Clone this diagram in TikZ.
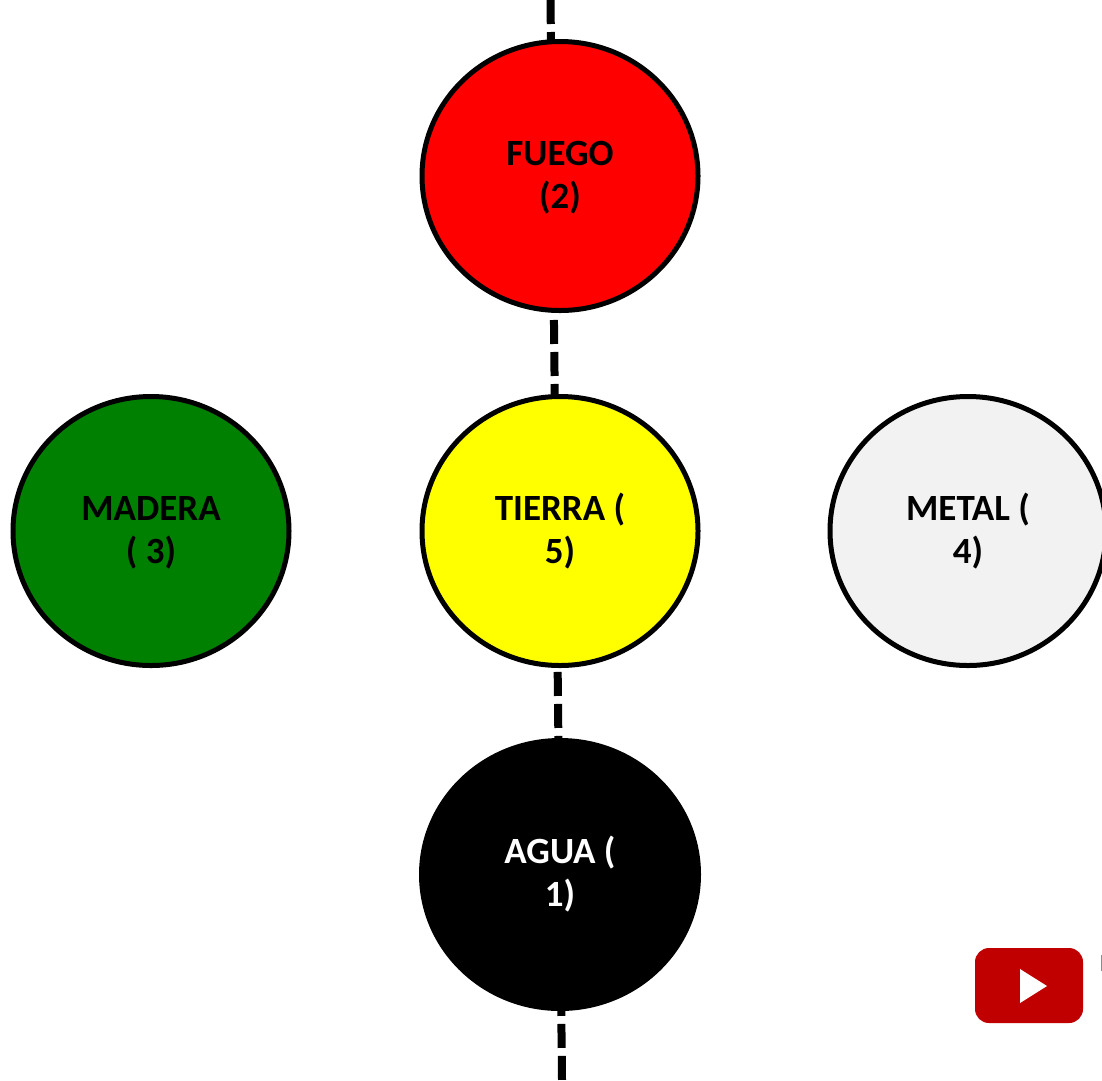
\documentclass[tikz,border=0pt]{standalone}
\usepackage{fontspec}
\setmainfont{Carlito}
\usetikzlibrary{shapes.geometric,backgrounds}
\definecolor{elemyellow}{RGB}{255,255,0}
\definecolor{elemred}{RGB}{255,0,0}
\definecolor{elemgreen}{RGB}{0,128,0}
\definecolor{elemgray}{RGB}{242,242,242}
\definecolor{ytred}{RGB}{192,0,0}
\tikzset{
  elem/.style={ellipse,draw=black,line width=5pt,inner sep=0pt,minimum width=276pt,minimum height=269pt,align=center,font=\fontsize{37}{43}\selectfont\bfseries,text=black},
  axisline/.style={draw=black,line width=8pt,dash pattern=on 24pt off 8pt},
}
\begin{document}
\begin{tikzpicture}[x=1pt,y=-1pt]
\useasboundingbox (0,0) rectangle (1102,1080);
\clip (0,0) rectangle (1102,1080);
\coordinate (top) at (550.5,0);
\coordinate (bot) at (562,1080);
\node[elem,fill=elemred] (fuego) at (560,176) {\vphantom{(}FUEGO\\(2)};
\node[elem,fill=elemyellow] (tierra) at (560,531) {TIERRA (\\5)};
\node[elem,fill=elemgreen] (madera) at (151,531) {\vphantom{(}MADERA\\( 3)};
\node[elem,fill=elemgray] (metal) at (968,531) {METAL (\\4)};
\node[elem,fill=black,text=white,minimum width=277pt,minimum height=268pt] (agua) at (560,874.5) {AGUA (\\1)};
\begin{scope}[on background layer]
\draw[axisline] (top) -- ([xshift=-7.6pt]fuego.center) -- ([xshift=-3.8pt]tierra.center) -- ([xshift=-0.2pt]agua.center) -- (bot);
\end{scope}
\fill[ytred,rounded corners=14pt] (975,948) rectangle (1083,1023);
\fill[white] (1020,969) -- (1047,986) -- (1020,1003) -- cycle;
\fill[black!45] (1100.5,955) rectangle (1102,971);
\end{tikzpicture}
\end{document}
